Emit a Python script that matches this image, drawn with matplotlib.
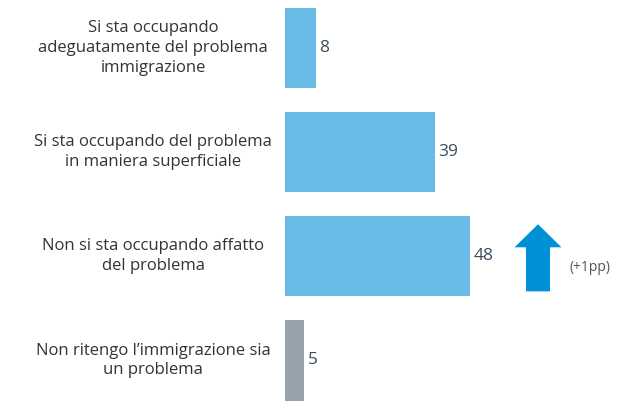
import matplotlib
matplotlib.use("Agg")
import matplotlib.pyplot as plt
from matplotlib.patches import FancyArrow
from matplotlib.transforms import blended_transform_factory

plt.rcParams["font.family"] = ["Open Sans", "DejaVu Sans"]

labels = [
    "Si sta occupando\nadeguatamente del problema\nimmigrazione",
    "Si sta occupando del problema\nin maniera superficiale",
    "Non si sta occupando affatto\ndel problema",
    "Non ritengo l\u2019immigrazione sia\nun problema",
]
values = [8, 39, 48, 5]
colors = ["#68bbe6", "#68bbe6", "#68bbe6", "#97a2ac"]
change_label = "(+1pp)"
change_row = 2

fig = plt.figure(figsize=(6.33, 4.01), dpi=100)
ax = fig.add_axes([285 / 633, 0, 348 / 633, 1])

ypos = list(range(len(values)))
ax.barh(ypos, values, height=0.77, color=colors)
ax.set_xlim(0, 348 / 3.85)
ax.set_ylim(3 + 40.5 / 104, -48 / 104)
ax.axis("off")

for y, v in zip(ypos, values):
    ax.text(v + 0.9, y, str(v), va="center", ha="left",
            fontsize=12.5, color="#3b4b5b")

trans = blended_transform_factory(fig.transFigure, ax.transData)
for y, lab in zip(ypos, labels):
    ax.text(153 / 633, y, lab, transform=trans, ha="center", va="center",
            fontsize=12, color="#333333", linespacing=1.32)

# arrow showing change vs previous wave
ax_x = (538 - 285) / 3.85
y0 = (291 - 48) / 104
y1 = (224 - 48) / 104
arrow = FancyArrow(ax_x, y0, 0, y1 - y0, width=24 / 3.85,
                   head_width=47 / 3.85, head_length=23 / 104,
                   length_includes_head=True, color="#0090d8", lw=0)
ax.add_patch(arrow)
ax.text((570 - 285) / 3.85, change_row + 11 / 104, change_label,
        ha="left", va="center", fontsize=10, color="#555555")

fig.savefig("out.png", dpi=100)
